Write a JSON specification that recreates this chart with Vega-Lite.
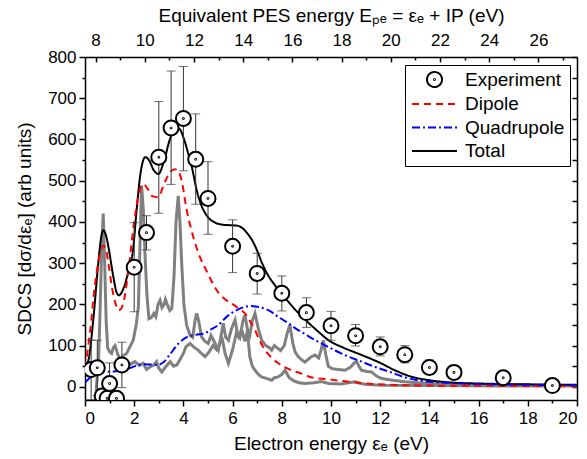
{
"$schema": "https://vega.github.io/schema/vega-lite/v6.json",
"width": 492, "height": 343,
"autosize": {"type": "none"},
"padding": {"left": 85, "top": 57, "right": 10, "bottom": 59},
"background": "white",
"config": {
  "view": {"stroke": null},
  "font": "Liberation Sans",
  "axis": {"grid": false, "labelFont": "Liberation Sans", "titleFont": "Liberation Sans", "labelFontSize": 17, "titleFontSize": 19, "titleFontWeight": "normal", "labelColor": "black", "titleColor": "black", "domainColor": "black", "tickColor": "black", "domainWidth": 1.5, "tickWidth": 1.5}
},
"datasets": {
"curves": [
{"s":"Total","x":0,"y":50},{"s":"Total","x":0.14,"y":65},{"s":"Total","x":0.34,"y":165},{"s":"Total","x":0.54,"y":300},{"s":"Total","x":0.65,"y":360},{"s":"Total","x":0.75,"y":380},{"s":"Total","x":0.85,"y":368},{"s":"Total","x":0.95,"y":340},{"s":"Total","x":1.15,"y":268},{"s":"Total","x":1.28,"y":230},{"s":"Total","x":1.38,"y":222},{"s":"Total","x":1.5,"y":230},{"s":"Total","x":1.63,"y":250},{"s":"Total","x":1.8,"y":290},{"s":"Total","x":1.95,"y":330},{"s":"Total","x":2.1,"y":430},{"s":"Total","x":2.25,"y":515},{"s":"Total","x":2.45,"y":557},{"s":"Total","x":2.6,"y":550},{"s":"Total","x":2.8,"y":525},{"s":"Total","x":2.98,"y":516},{"s":"Total","x":3.2,"y":545},{"s":"Total","x":3.45,"y":600},{"s":"Total","x":3.7,"y":628},{"s":"Total","x":3.85,"y":625},{"s":"Total","x":4.0,"y":605},{"s":"Total","x":4.2,"y":565},{"s":"Total","x":4.34,"y":534},{"s":"Total","x":4.54,"y":477},{"s":"Total","x":4.7,"y":445},{"s":"Total","x":4.85,"y":425},{"s":"Total","x":5.05,"y":408},{"s":"Total","x":5.3,"y":398},{"s":"Total","x":5.62,"y":393},{"s":"Total","x":5.9,"y":392},{"s":"Total","x":6.17,"y":391},{"s":"Total","x":6.4,"y":385},{"s":"Total","x":6.6,"y":372},{"s":"Total","x":6.8,"y":355},{"s":"Total","x":7.0,"y":330},{"s":"Total","x":7.2,"y":300},{"s":"Total","x":7.4,"y":275},{"s":"Total","x":7.7,"y":248},{"s":"Total","x":8.0,"y":226},{"s":"Total","x":8.5,"y":190},{"s":"Total","x":9.0,"y":160},{"s":"Total","x":9.5,"y":133},{"s":"Total","x":9.9,"y":113},{"s":"Total","x":10.5,"y":95},{"s":"Total","x":11.25,"y":77},{"s":"Total","x":12.0,"y":58},{"s":"Total","x":12.6,"y":40},{"s":"Total","x":13.3,"y":24},{"s":"Total","x":14.0,"y":16},{"s":"Total","x":15.0,"y":10},{"s":"Total","x":16.0,"y":8},{"s":"Total","x":18.0,"y":6},{"s":"Total","x":20.0,"y":5},
{"s":"Dipole","x":0,"y":45},{"s":"Dipole","x":0.2,"y":130},{"s":"Dipole","x":0.4,"y":245},{"s":"Dipole","x":0.6,"y":320},{"s":"Dipole","x":0.75,"y":342},{"s":"Dipole","x":0.85,"y":335},{"s":"Dipole","x":0.95,"y":300},{"s":"Dipole","x":1.1,"y":240},{"s":"Dipole","x":1.25,"y":200},{"s":"Dipole","x":1.35,"y":186},{"s":"Dipole","x":1.45,"y":188},{"s":"Dipole","x":1.6,"y":215},{"s":"Dipole","x":1.8,"y":300},{"s":"Dipole","x":2.0,"y":400},{"s":"Dipole","x":2.2,"y":470},{"s":"Dipole","x":2.37,"y":492},{"s":"Dipole","x":2.55,"y":480},{"s":"Dipole","x":2.75,"y":462},{"s":"Dipole","x":2.98,"y":460},{"s":"Dipole","x":3.2,"y":490},{"s":"Dipole","x":3.45,"y":520},{"s":"Dipole","x":3.65,"y":528},{"s":"Dipole","x":3.8,"y":522},{"s":"Dipole","x":3.93,"y":500},{"s":"Dipole","x":4.13,"y":430},{"s":"Dipole","x":4.4,"y":364},{"s":"Dipole","x":4.67,"y":315},{"s":"Dipole","x":4.95,"y":280},{"s":"Dipole","x":5.2,"y":250},{"s":"Dipole","x":5.45,"y":226},{"s":"Dipole","x":5.7,"y":212},{"s":"Dipole","x":5.96,"y":202},{"s":"Dipole","x":6.25,"y":190},{"s":"Dipole","x":6.5,"y":178},{"s":"Dipole","x":6.7,"y":160},{"s":"Dipole","x":6.91,"y":138},{"s":"Dipole","x":7.1,"y":112},{"s":"Dipole","x":7.32,"y":89},{"s":"Dipole","x":7.6,"y":70},{"s":"Dipole","x":7.86,"y":57},{"s":"Dipole","x":8.4,"y":40},{"s":"Dipole","x":8.8,"y":32},{"s":"Dipole","x":9.15,"y":24},{"s":"Dipole","x":9.9,"y":18},{"s":"Dipole","x":10.5,"y":14},{"s":"Dipole","x":11.25,"y":9},{"s":"Dipole","x":12.4,"y":5},{"s":"Dipole","x":14,"y":3},{"s":"Dipole","x":16,"y":2.5},{"s":"Dipole","x":20,"y":2},
{"s":"Quadrupole","x":0,"y":10},{"s":"Quadrupole","x":0.25,"y":25},{"s":"Quadrupole","x":0.5,"y":36},{"s":"Quadrupole","x":0.8,"y":38},{"s":"Quadrupole","x":1.04,"y":36},{"s":"Quadrupole","x":1.3,"y":38},{"s":"Quadrupole","x":1.6,"y":42},{"s":"Quadrupole","x":1.86,"y":46},{"s":"Quadrupole","x":2.1,"y":52},{"s":"Quadrupole","x":2.4,"y":55},{"s":"Quadrupole","x":2.7,"y":54},{"s":"Quadrupole","x":2.94,"y":53},{"s":"Quadrupole","x":3.2,"y":60},{"s":"Quadrupole","x":3.48,"y":81},{"s":"Quadrupole","x":3.8,"y":105},{"s":"Quadrupole","x":4.16,"y":121},{"s":"Quadrupole","x":4.5,"y":126},{"s":"Quadrupole","x":4.88,"y":130},{"s":"Quadrupole","x":5.1,"y":138},{"s":"Quadrupole","x":5.42,"y":150},{"s":"Quadrupole","x":5.8,"y":172},{"s":"Quadrupole","x":6.1,"y":184},{"s":"Quadrupole","x":6.4,"y":192},{"s":"Quadrupole","x":6.7,"y":196},{"s":"Quadrupole","x":7.0,"y":194},{"s":"Quadrupole","x":7.45,"y":186},{"s":"Quadrupole","x":7.9,"y":168},{"s":"Quadrupole","x":8.27,"y":154},{"s":"Quadrupole","x":8.6,"y":140},{"s":"Quadrupole","x":8.94,"y":128},{"s":"Quadrupole","x":9.3,"y":115},{"s":"Quadrupole","x":9.69,"y":103},{"s":"Quadrupole","x":10.1,"y":90},{"s":"Quadrupole","x":10.6,"y":76},{"s":"Quadrupole","x":11.25,"y":61},{"s":"Quadrupole","x":11.8,"y":48},{"s":"Quadrupole","x":12.4,"y":36},{"s":"Quadrupole","x":12.9,"y":25},{"s":"Quadrupole","x":13.5,"y":16},{"s":"Quadrupole","x":14.6,"y":10},{"s":"Quadrupole","x":16,"y":7},{"s":"Quadrupole","x":18,"y":5},{"s":"Quadrupole","x":20,"y":4}
],
"gray": [
{"g":"a","x":0.45,"y":-10},{"g":"a","x":0.55,"y":60},{"g":"a","x":0.62,"y":200},{"g":"a","x":0.68,"y":340},{"g":"a","x":0.74,"y":420},{"g":"a","x":0.8,"y":300},{"g":"a","x":0.86,"y":160},{"g":"a","x":0.92,"y":95},{"g":"a","x":1.0,"y":85},{"g":"a","x":1.08,"y":81},{"g":"a","x":1.15,"y":95},{"g":"a","x":1.22,"y":100},{"g":"a","x":1.3,"y":85},{"g":"a","x":1.42,"y":65},{"g":"a","x":1.55,"y":75},{"g":"a","x":1.69,"y":81},{"g":"a","x":1.85,"y":100},{"g":"a","x":1.96,"y":113},{"g":"a","x":2.08,"y":150},{"g":"a","x":2.17,"y":194},{"g":"a","x":2.23,"y":330},{"g":"a","x":2.3,"y":488},{"g":"a","x":2.37,"y":430},{"g":"a","x":2.44,"y":320},{"g":"a","x":2.52,"y":220},{"g":"a","x":2.6,"y":165},{"g":"a","x":2.7,"y":168},{"g":"a","x":2.8,"y":178},{"g":"a","x":2.88,"y":170},{"g":"a","x":2.97,"y":200},{"g":"a","x":3.05,"y":210},{"g":"a","x":3.13,"y":192},{"g":"a","x":3.2,"y":198},{"g":"a","x":3.27,"y":212},{"g":"a","x":3.34,"y":200},{"g":"a","x":3.45,"y":185},{"g":"a","x":3.53,"y":190},{"g":"a","x":3.62,"y":270},{"g":"a","x":3.7,"y":400},{"g":"a","x":3.79,"y":463},{"g":"a","x":3.86,"y":400},{"g":"a","x":3.93,"y":300},{"g":"a","x":4.02,"y":200},{"g":"a","x":4.13,"y":150},{"g":"a","x":4.27,"y":125},{"g":"a","x":4.38,"y":120},{"g":"a","x":4.47,"y":160},{"g":"a","x":4.54,"y":178},{"g":"a","x":4.62,"y":160},{"g":"a","x":4.74,"y":121},{"g":"a","x":4.88,"y":110},{"g":"a","x":5.01,"y":105},{"g":"a","x":5.12,"y":125},{"g":"a","x":5.25,"y":110},{"g":"a","x":5.42,"y":89},{"g":"a","x":5.52,"y":120},{"g":"a","x":5.62,"y":154},{"g":"a","x":5.72,"y":120},{"g":"a","x":5.83,"y":113},{"g":"a","x":5.95,"y":140},{"g":"a","x":6.1,"y":162},{"g":"a","x":6.2,"y":130},{"g":"a","x":6.3,"y":120},{"g":"a","x":6.42,"y":160},{"g":"a","x":6.5,"y":174},{"g":"a","x":6.6,"y":140},{"g":"a","x":6.7,"y":125},{"g":"a","x":6.8,"y":160},{"g":"a","x":6.91,"y":178},{"g":"a","x":7.05,"y":140},{"g":"a","x":7.18,"y":113},{"g":"a","x":7.35,"y":100},{"g":"a","x":7.5,"y":95},{"g":"a","x":7.59,"y":89},{"g":"a","x":7.7,"y":100},{"g":"a","x":7.8,"y":95},{"g":"a","x":7.95,"y":88},{"g":"a","x":8.1,"y":100},{"g":"a","x":8.22,"y":130},{"g":"a","x":8.33,"y":150},{"g":"a","x":8.45,"y":105},{"g":"a","x":8.54,"y":85},{"g":"a","x":8.67,"y":73},{"g":"a","x":8.8,"y":66},{"g":"a","x":8.94,"y":60},{"g":"a","x":9.1,"y":68},{"g":"a","x":9.2,"y":73},{"g":"a","x":9.35,"y":77},{"g":"a","x":9.5,"y":70},{"g":"a","x":9.6,"y":90},{"g":"a","x":9.69,"y":113},{"g":"a","x":9.78,"y":80},{"g":"a","x":9.89,"y":50},{"g":"a","x":10.05,"y":44},{"g":"a","x":10.3,"y":42},{"g":"a","x":10.57,"y":40},{"g":"a","x":10.8,"y":48},{"g":"a","x":10.95,"y":58},{"g":"a","x":11.04,"y":62},{"g":"a","x":11.15,"y":48},{"g":"a","x":11.25,"y":40},{"g":"a","x":11.45,"y":37},{"g":"a","x":11.65,"y":36},{"g":"a","x":11.85,"y":26},{"g":"a","x":12.06,"y":20},{"g":"a","x":12.5,"y":16},{"g":"a","x":13,"y":12},{"g":"a","x":13.5,"y":10},{"g":"a","x":14,"y":8},{"g":"a","x":15,"y":6},{"g":"a","x":16,"y":5},{"g":"a","x":18,"y":4},{"g":"a","x":20,"y":3},
{"g":"b","x":1.5,"y":45},{"g":"b","x":1.6,"y":50},{"g":"b","x":1.69,"y":48},{"g":"b","x":1.85,"y":55},{"g":"b","x":2.03,"y":61},{"g":"b","x":2.2,"y":52},{"g":"b","x":2.37,"y":57},{"g":"b","x":2.5,"y":42},{"g":"b","x":2.64,"y":48},{"g":"b","x":2.8,"y":53},{"g":"b","x":2.91,"y":61},{"g":"b","x":3.0,"y":45},{"g":"b","x":3.12,"y":36},{"g":"b","x":3.3,"y":50},{"g":"b","x":3.46,"y":61},{"g":"b","x":3.6,"y":50},{"g":"b","x":3.73,"y":53},{"g":"b","x":3.85,"y":65},{"g":"b","x":4.0,"y":81},{"g":"b","x":4.1,"y":97},{"g":"b","x":4.27,"y":105},{"g":"b","x":4.45,"y":95},{"g":"b","x":4.6,"y":89},{"g":"b","x":4.75,"y":80},{"g":"b","x":4.88,"y":73},{"g":"b","x":5.05,"y":85},{"g":"b","x":5.2,"y":100},{"g":"b","x":5.35,"y":90},{"g":"b","x":5.45,"y":100},{"g":"b","x":5.56,"y":121},{"g":"b","x":5.7,"y":80},{"g":"b","x":5.83,"y":57},{"g":"b","x":6.0,"y":90},{"g":"b","x":6.15,"y":130},{"g":"b","x":6.25,"y":120},{"g":"b","x":6.37,"y":138},{"g":"b","x":6.5,"y":110},{"g":"b","x":6.6,"y":135},{"g":"b","x":6.7,"y":73},{"g":"b","x":6.8,"y":50},{"g":"b","x":6.91,"y":40},{"g":"b","x":7.05,"y":30},{"g":"b","x":7.18,"y":24},{"g":"b","x":7.4,"y":20},{"g":"b","x":7.59,"y":16},{"g":"b","x":7.7,"y":22},{"g":"b","x":7.85,"y":24},{"g":"b","x":8.0,"y":30},{"g":"b","x":8.13,"y":40},{"g":"b","x":8.3,"y":22},{"g":"b","x":8.5,"y":14},{"g":"b","x":8.7,"y":10},{"g":"b","x":8.94,"y":8},{"g":"b","x":9.3,"y":10},{"g":"b","x":9.62,"y":13},{"g":"b","x":9.9,"y":8},{"g":"b","x":10.4,"y":7},{"g":"b","x":10.98,"y":12},{"g":"b","x":11.2,"y":8},{"g":"b","x":11.4,"y":6},{"g":"b","x":12,"y":4},{"g":"b","x":14,"y":3},{"g":"b","x":17,"y":2},{"g":"b","x":20,"y":2}
],
"exp": [
{"x":0.25,"y":42,"lo":-31,"hi":113},{"x":0.5,"y":46,"lo":-21,"hi":113},{"x":0.7,"y":-22,"lo":-37,"hi":-7},{"x":0.9,"y":-28,"lo":-43,"hi":-13},{"x":1.0,"y":8,"lo":-42,"hi":58},{"x":1.28,"y":-28,"lo":-43,"hi":-13},{"x":1.5,"y":53,"lo":-2,"hi":108},{"x":2.0,"y":290,"lo":182,"hi":398},{"x":2.5,"y":374,"lo":332,"hi":415},{"x":3.0,"y":557,"lo":421,"hi":692},{"x":3.5,"y":628,"lo":491,"hi":766},{"x":4.0,"y":651,"lo":524,"hi":777},{"x":4.5,"y":552,"lo":443,"hi":662},{"x":5.0,"y":457,"lo":370,"hi":546},{"x":6.0,"y":341,"lo":277,"hi":405},{"x":7.0,"y":275,"lo":225,"hi":324},{"x":8.0,"y":227,"lo":184,"hi":269},{"x":9.0,"y":180,"lo":144,"hi":216},{"x":10,"y":148,"lo":113,"hi":183},{"x":11,"y":124,"lo":99,"hi":151},{"x":12,"y":97,"lo":75,"hi":121},{"x":13,"y":78,"lo":58,"hi":100},{"x":14,"y":47,"lo":30,"hi":65},{"x":15,"y":35,"lo":25,"hi":45},{"x":17,"y":22,"lo":15,"hi":29},{"x":19,"y":3,"lo":-2,"hi":8}
]
},
"layer": [
{
  "data": {"name": "gray"},
  "mark": {"type": "line", "stroke": "#808080", "strokeWidth": 3, "clip": true},
  "encoding": {
    "x": {"field": "x", "type": "quantitative", "scale": {"domain": [0, 20], "nice": false, "zero": false},
      "axis": {"orient": "bottom", "values": [0,2,4,6,8,10,12,14,16,18,20], "format": "d", "tickSize": 6, "labelPadding": 4, "title": "Electron energy εₑ (eV)", "titlePadding": 8}},
    "y": {"field": "y", "type": "quantitative", "scale": {"domain": [-32, 800], "nice": false, "zero": false},
      "axis": {"orient": "left", "values": [0,100,200,300,400,500,600,700,800], "format": "d", "tickSize": 6, "labelPadding": 3, "title": "SDCS [dσ/dεₑ] (arb units)", "titlePadding": 13}},
    "detail": {"field": "g"}
  }
},
{
  "data": {"name": "curves"},
  "mark": {"type": "line", "strokeWidth": 2, "clip": true, "interpolate": "monotone"},
  "encoding": {
    "x": {"field": "x", "type": "quantitative", "scale": {"domain": [0, 20], "nice": false, "zero": false},
      "axis": {"orient": "top", "values": [0.43,2.43,4.43,6.43,8.43,10.43,12.43,14.43,16.43,18.43], "labelExpr": "format(round(datum.value + 7.57), 'd')", "tickSize": -5, "labelPadding": 13, "title": "Equivalent PES energy Eₚₑ = εₑ + IP (eV)", "titlePadding": 6}},
    "y": {"field": "y", "type": "quantitative", "scale": {"domain": [-32, 800], "nice": false, "zero": false},
      "axis": {"orient": "right", "values": [0,50,100,150,200,250,300,350,400,450,500,550,600,650,700,750,800], "labels": false, "tickSize": -5, "title": null}},
    "color": {"field": "s", "type": "nominal",
      "scale": {"domain": ["Experiment", "Dipole", "Quadrupole", "Total"], "range": ["black", "#ff0000", "#0000ff", "black"]},
      "legend": {"orient": "none", "legendX": 320, "legendY": 8, "title": null, "strokeColor": "black", "fillColor": "white", "padding": 5,
        "symbolSize": 225, "symbolOffset": 15, "labelOffset": 21, "labelFontSize": 19, "labelFont": "Liberation Sans", "labelColor": "black", "rowPadding": 3.5, "symbolStrokeWidth": 2,
        "encode": {"symbols": {"update": {
          "shape": [{"test": "datum.value === 'Experiment'", "value": "M-1,0A1,1 0 1,1 1,0A1,1 0 1,1 -1,0ZM-0.06,0A0.06,0.06 0 1,1 0.06,0A0.06,0.06 0 1,1 -0.06,0Z"}, {"value": "M-3,0H3"}],
          "fill": {"value": "white"},
          "strokeDash": {"scale": "strokeDash", "field": "value"}
        }}}}},
    "strokeDash": {"field": "s", "type": "nominal",
      "scale": {"domain": ["Experiment", "Dipole", "Quadrupole", "Total"], "range": [[1,0],[7,5],[8,3,2,3],[1,0]]},
      "legend": null}
  }
},
{
  "data": {"name": "exp"},
  "mark": {"type": "rule", "color": "#333333", "strokeWidth": 1, "clip": true},
  "encoding": {
    "x": {"field": "x", "type": "quantitative", "scale": {"domain": [0, 20], "nice": false, "zero": false},
      "axis": {"orient": "bottom", "values": [1,3,5,7,9,11,13,15,17,19], "labels": false, "domain": false, "tickSize": 3, "title": null}},
    "y": {"field": "lo", "type": "quantitative", "scale": {"domain": [-32, 800], "nice": false, "zero": false},
      "axis": {"orient": "left", "values": [50,150,250,350,450,550,650,750], "labels": false, "domain": false, "tickSize": 3, "title": null}},
    "y2": {"field": "hi"}
  }
},
{
  "data": {"name": "exp"},
  "mark": {"type": "tick", "orient": "horizontal", "color": "#333333", "size": 9, "thickness": 1, "clip": true},
  "encoding": {
    "x": {"field": "x", "type": "quantitative", "scale": {"domain": [0, 20], "nice": false, "zero": false},
      "axis": {"orient": "top", "values": [1.43,3.43,5.43,7.43,9.43,11.43,13.43,15.43,17.43,19.43], "labels": false, "domain": false, "tickSize": -3, "title": null}},
    "y": {"field": "lo", "type": "quantitative", "scale": {"domain": [-32, 800], "nice": false, "zero": false}, "axis": null}
  }
},
{
  "data": {"name": "exp"},
  "mark": {"type": "tick", "orient": "horizontal", "color": "#333333", "size": 9, "thickness": 1, "clip": true},
  "encoding": {
    "x": {"field": "x", "type": "quantitative", "scale": {"domain": [0, 20], "nice": false, "zero": false}, "axis": null},
    "y": {"field": "hi", "type": "quantitative", "scale": {"domain": [-32, 800], "nice": false, "zero": false}, "axis": null}
  }
},
{
  "data": {"name": "exp"},
  "mark": {"type": "point", "shape": "M-1,0A1,1 0 1,1 1,0A1,1 0 1,1 -1,0ZM-0.06,0A0.06,0.06 0 1,1 0.06,0A0.06,0.06 0 1,1 -0.06,0Z", "size": 225, "filled": false, "fill": "white", "fillOpacity": 1, "stroke": "black", "strokeWidth": 2, "opacity": 1, "clip": true},
  "encoding": {
    "x": {"field": "x", "type": "quantitative", "scale": {"domain": [0, 20], "nice": false, "zero": false}, "axis": null},
    "y": {"field": "y", "type": "quantitative", "scale": {"domain": [-32, 800], "nice": false, "zero": false}, "axis": null}
  }
}
],
"resolve": {"axis": {"x": "independent", "y": "independent"}}
}
